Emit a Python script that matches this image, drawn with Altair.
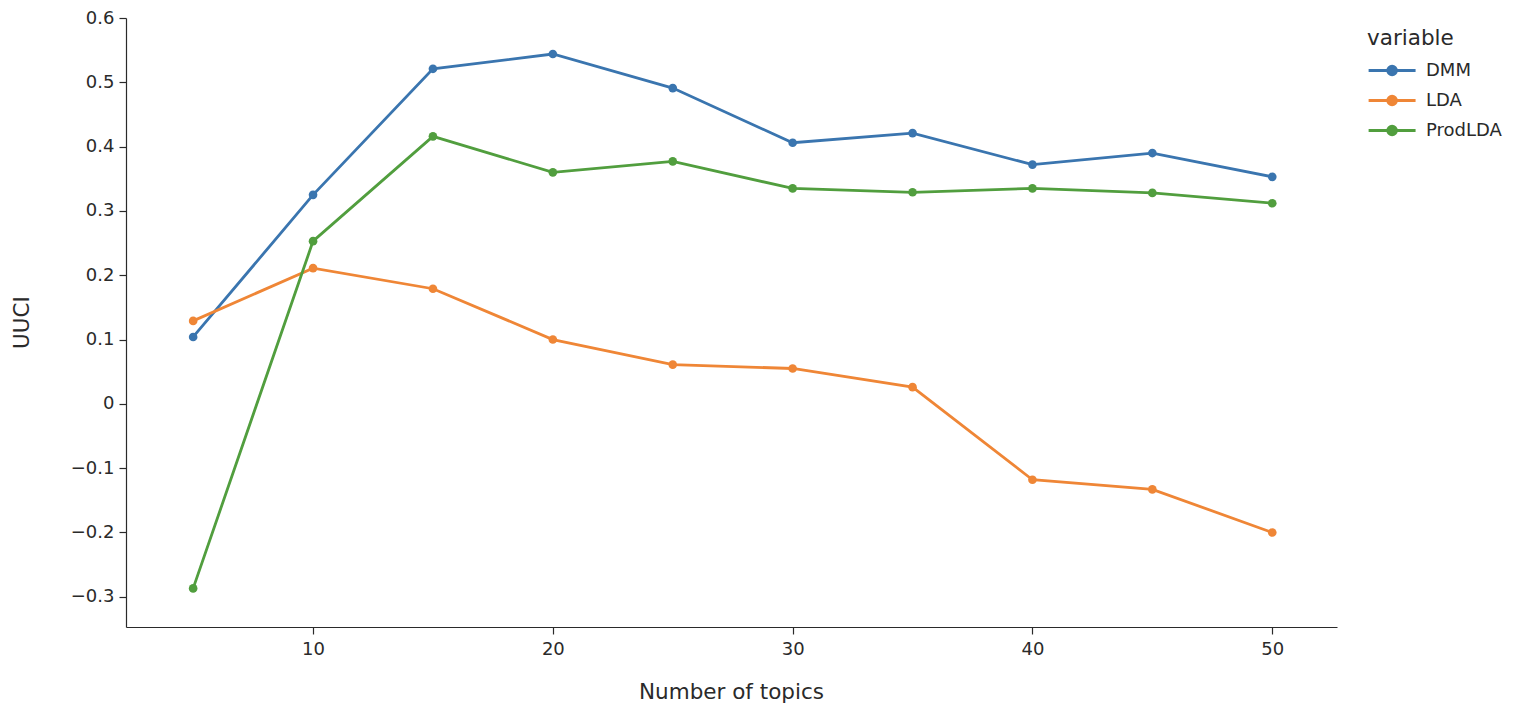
import altair as alt
import pandas as pd

topics = [5, 10, 15, 20, 25, 30, 35, 40, 45, 50]
dmm = [0.104, 0.325, 0.521, 0.544, 0.491, 0.406, 0.421, 0.372, 0.390, 0.353]
lda = [0.129, 0.211, 0.179, 0.100, 0.061, 0.055, 0.026, -0.118, -0.133, -0.200]
prodlda = [-0.287, 0.253, 0.416, 0.360, 0.377, 0.335, 0.329, 0.335, 0.328, 0.312]
series = ["DMM", "LDA", "ProdLDA"]
colors = ["#3a75af", "#ef8636", "#519e3e"]
x_ticks = [10, 20, 30, 40, 50]
y_ticks = [-0.3, -0.2, -0.1, 0, 0.1, 0.2, 0.3, 0.4, 0.5, 0.6]

rows = []
for name, vals in zip(series, [dmm, lda, prodlda]):
    for t, v in zip(topics, vals):
        rows.append({"Number of topics": t, "value": v, "variable": name})
df = pd.DataFrame(rows)

FONT = "DejaVu Sans"
TXT = "#2a2a2a"
AX = "#2a2a2a"

# legend symbol: a line with a dot in its middle (unit box is [-1, 1])
legend_path = ("M-1,0L4,0"
               "M1.96,0A0.46,0.46 0 1,1 1.04,0A0.46,0.46 0 1,1 1.96,0Z")

chart = alt.Chart(df).mark_line(
    strokeWidth=2.8,
    point=alt.OverlayMarkDef(size=75, filled=True, opacity=1),
).encode(
    x=alt.X("Number of topics:Q",
            scale=alt.Scale(domain=[2.2, 52.7], nice=False, zero=False),
            axis=alt.Axis(values=x_ticks, format="d", grid=False,
                          tickSize=7, labelPadding=6,
                          titleY=71, titleBaseline="alphabetic",
                          titleX=605)),
    y=alt.Y("value:Q", title="UUCI",
            scale=alt.Scale(domain=[-0.347, 0.6], nice=False, zero=False),
            axis=alt.Axis(values=y_ticks, format="~g", grid=False,
                          tickSize=7, labelPadding=5,
                          titleX=-98, titleY=304, titleBaseline="alphabetic",
                          titleAlign="center", titleAngle=-90)),
    color=alt.Color("variable:N",
                    scale=alt.Scale(domain=series, range=colors),
                    legend=alt.Legend(title="variable", symbolType=legend_path,
                                      symbolSize=353, symbolStrokeWidth=2.8,
                                      orient="none", legendX=1241, legendY=10,
                                      rowPadding=9, labelOffset=37,
                                      titlePadding=10)),
).properties(
    width=1211,
    height=609,
    autosize=alt.AutoSizeParams(type="none"),
    padding={"left": 118, "top": 10, "right": 166, "bottom": 76},
).configure_view(
    stroke=None
).configure_axis(
    labelFont=FONT, titleFont=FONT, labelFontSize=18, titleFontSize=21.5,
    labelColor=TXT, titleColor=TXT, titleFontWeight="normal",
    domainColor=AX, tickColor=AX, domainWidth=1.2, tickWidth=1.2,
).configure_legend(
    labelFont=FONT, titleFont=FONT, labelFontSize=18, titleFontSize=21.5,
    labelColor=TXT, titleColor=TXT, titleFontWeight="normal",
)

chart.save("out.html", embed_options={"renderer": "svg", "actions": False})
